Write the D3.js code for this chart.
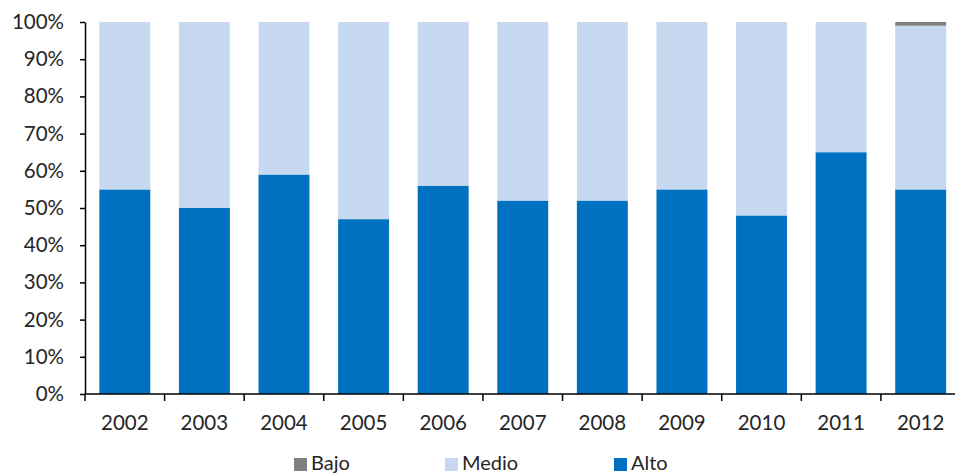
<!DOCTYPE html>
<html><head><meta charset="utf-8">
<script src="https://cdn.jsdelivr.net/npm/d3@7"></script>
<style>body{margin:0;background:#fff;} svg{display:block;} text{font-family:Lato, "Open Sans", sans-serif;fill:#262626;}</style>
</head><body>
<svg id="c" width="955" height="475"></svg>
<script>
const years = ["2002","2003","2004","2005","2006","2007","2008","2009","2010","2011","2012"];
const alto  = [55,50,59,47,56,52,52,55,48,65,55];
const bajo  = [0,0,0,0,0,0,0,0,0,0,1];
const medio = alto.map((a,i)=>100-a-bajo[i]);
const yTicks = [0,10,20,30,40,50,60,70,80,90,100];
const seriesNames = ["Alto","Medio","Bajo"];
const colors = {Alto:"#0070C0", Medio:"#C6D9F1", Bajo:"#808080"};

const data = years.map((y,i)=>({year:y, Alto:alto[i], Medio:medio[i], Bajo:bajo[i]}));
const svg = d3.select("#c");
const x = d3.scaleBand().domain(years).range([85, 960.5]).paddingInner(0.36).paddingOuter(0.18);
const y = d3.scaleLinear().domain([0,100]).range([394, 22]);

const stack = d3.stack().keys(seriesNames)(data);
svg.append("g").selectAll("g").data(stack).join("g")
  .attr("fill", d=>colors[d.key])
  .selectAll("rect").data(d=>d).join("rect")
  .attr("x", d=>x(d.data.year))
  .attr("width", x.bandwidth())
  .attr("y", d=>y(d[1]))
  .attr("height", d=>Math.max(0, y(d[0])-y(d[1])));

// y axis
const ya = svg.append("g").attr("transform","translate(85,0)")
  .call(d3.axisLeft(y).tickValues(yTicks).tickFormat(d=>d+"%").tickSize(5).tickSizeOuter(0));
ya.select(".domain").attr("stroke","#000").attr("stroke-width",1.5);
ya.selectAll(".tick line").attr("stroke","#000").attr("stroke-width",1.5);
ya.selectAll("text").attr("font-size",20.5).attr("x",-21).attr("fill","#262626").attr("font-family","Lato, sans-serif");

// x axis
const xb = d3.scaleLinear().domain([0, years.length]).range([85, 960.5]);
const xa = svg.append("g").attr("transform","translate(0,394)");
xa.append("line").attr("x1",85).attr("x2",960.5).attr("stroke","#000").attr("stroke-width",1.5);
xa.selectAll("line.t").data(d3.range(years.length+1)).join("line").attr("class","t")
  .attr("x1",d=>xb(d)).attr("x2",d=>xb(d)).attr("y1",0).attr("y2",7)
  .attr("stroke","#000").attr("stroke-width",1.5);
xa.selectAll("text").data(years).join("text")
  .attr("x",d=>x(d)+x.bandwidth()/2).attr("y",36)
  .attr("text-anchor","middle").attr("font-size",20.5).text(d=>d);

// legend
const legendItems = [{k:"Bajo",x:294},{k:"Medio",x:445},{k:"Alto",x:614}];
const lg = svg.append("g");
legendItems.forEach(it=>{
  lg.append("rect").attr("x",it.x).attr("y",458).attr("width",13).attr("height",13).attr("fill",colors[it.k]);
  lg.append("text").attr("x",it.x+17).attr("y",470).attr("font-size",20).text(it.k);
});
</script>
</body></html>
